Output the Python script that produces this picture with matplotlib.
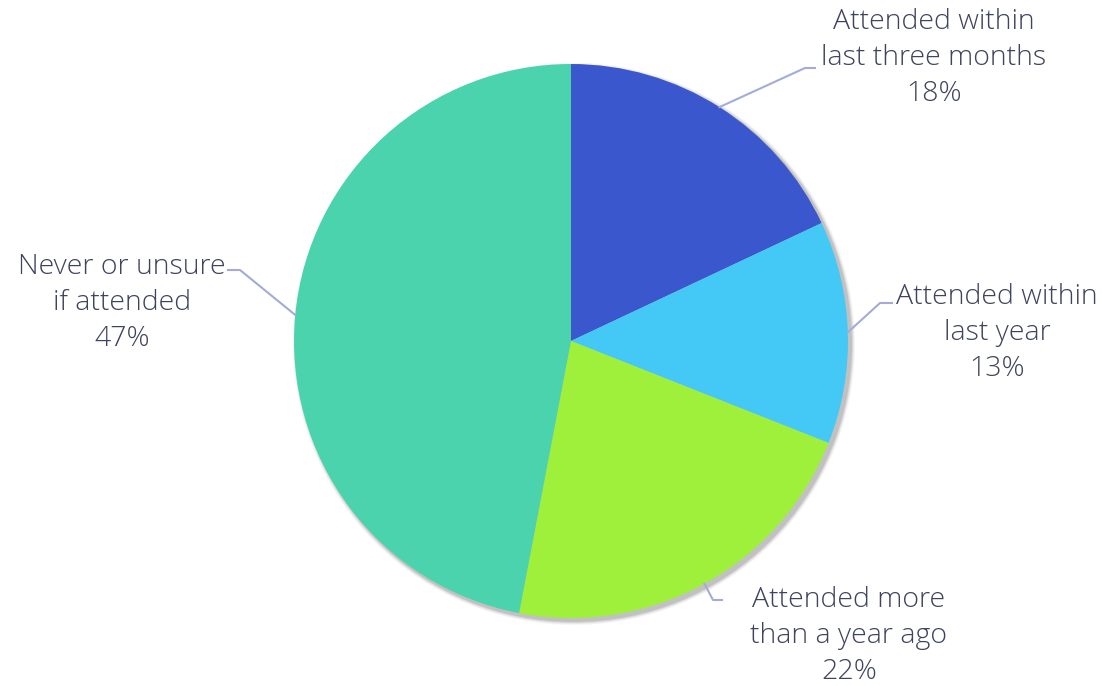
import numpy as np
import matplotlib.pyplot as plt
from matplotlib.patches import Circle

labels = ["Attended within\nlast three months", "Attended within\nlast year",
          "Attended more\nthan a year ago", "Never or unsure\nif attended"]
shares = [18, 13, 22, 47]
colors = ["#3b57cd", "#44c9f7", "#9ff03b", "#4bd3ae"]

# label anchor points, leader line knees (pixel coords)
label_pos = [(934, 58), (997, 333), (849, 636), (122, 303)]
knees = [[(805, 68), (815, 68)], [(880, 303), (892, 303)],
         [(713, 600), (722, 600)], [(240, 270), (228, 270)]]

W, H = 1102, 686
cx, cy, r = 571, 341, 277
text_color = "#3e435f"
line_color = "#a3acd8"

fig = plt.figure(figsize=(W / 100, H / 100), dpi=100)

# overlay axes in pixel coords (y down)
ov = fig.add_axes([0, 0, 1, 1])
ov.set_xlim(0, W)
ov.set_ylim(H, 0)
ov.axis("off")

# soft shadow
for i, a in enumerate([0.04, 0.05, 0.07, 0.10]):
    off = 4 - i
    ov.add_patch(Circle((cx + 3, cy + 3), r + off, color="black", alpha=a, lw=0, zorder=1))

# pie axes placed exactly over the pie area
pa = fig.add_axes([(cx - r) / W, (H - cy - r) / H, 2 * r / W, 2 * r / H])
wedges, _ = pa.pie(shares, colors=colors, startangle=90, counterclock=False,
                   radius=1, wedgeprops=dict(linewidth=0))
pa.set_xlim(-1, 1)
pa.set_ylim(-1, 1)
pa.axis("off")

# leader lines and labels on top
top = fig.add_axes([0, 0, 1, 1])
top.set_xlim(0, W)
top.set_ylim(H, 0)
top.axis("off")

for i, w in enumerate(wedges):
    mid = np.deg2rad((w.theta1 + w.theta2) / 2)
    ex, ey = cx + r * np.cos(mid), cy - r * np.sin(mid)
    xs = [ex] + [p[0] for p in knees[i]]
    ys = [ey] + [p[1] for p in knees[i]]
    top.plot(xs, ys, color=line_color, lw=1.5)
    top.text(label_pos[i][0], label_pos[i][1], f"{labels[i]}\n{shares[i]}%",
             ha="center", va="center", fontsize=20.5, color=text_color,
             family="Open Sans", fontweight="light", linespacing=1.4)

fig.savefig("out.png", dpi=100)
